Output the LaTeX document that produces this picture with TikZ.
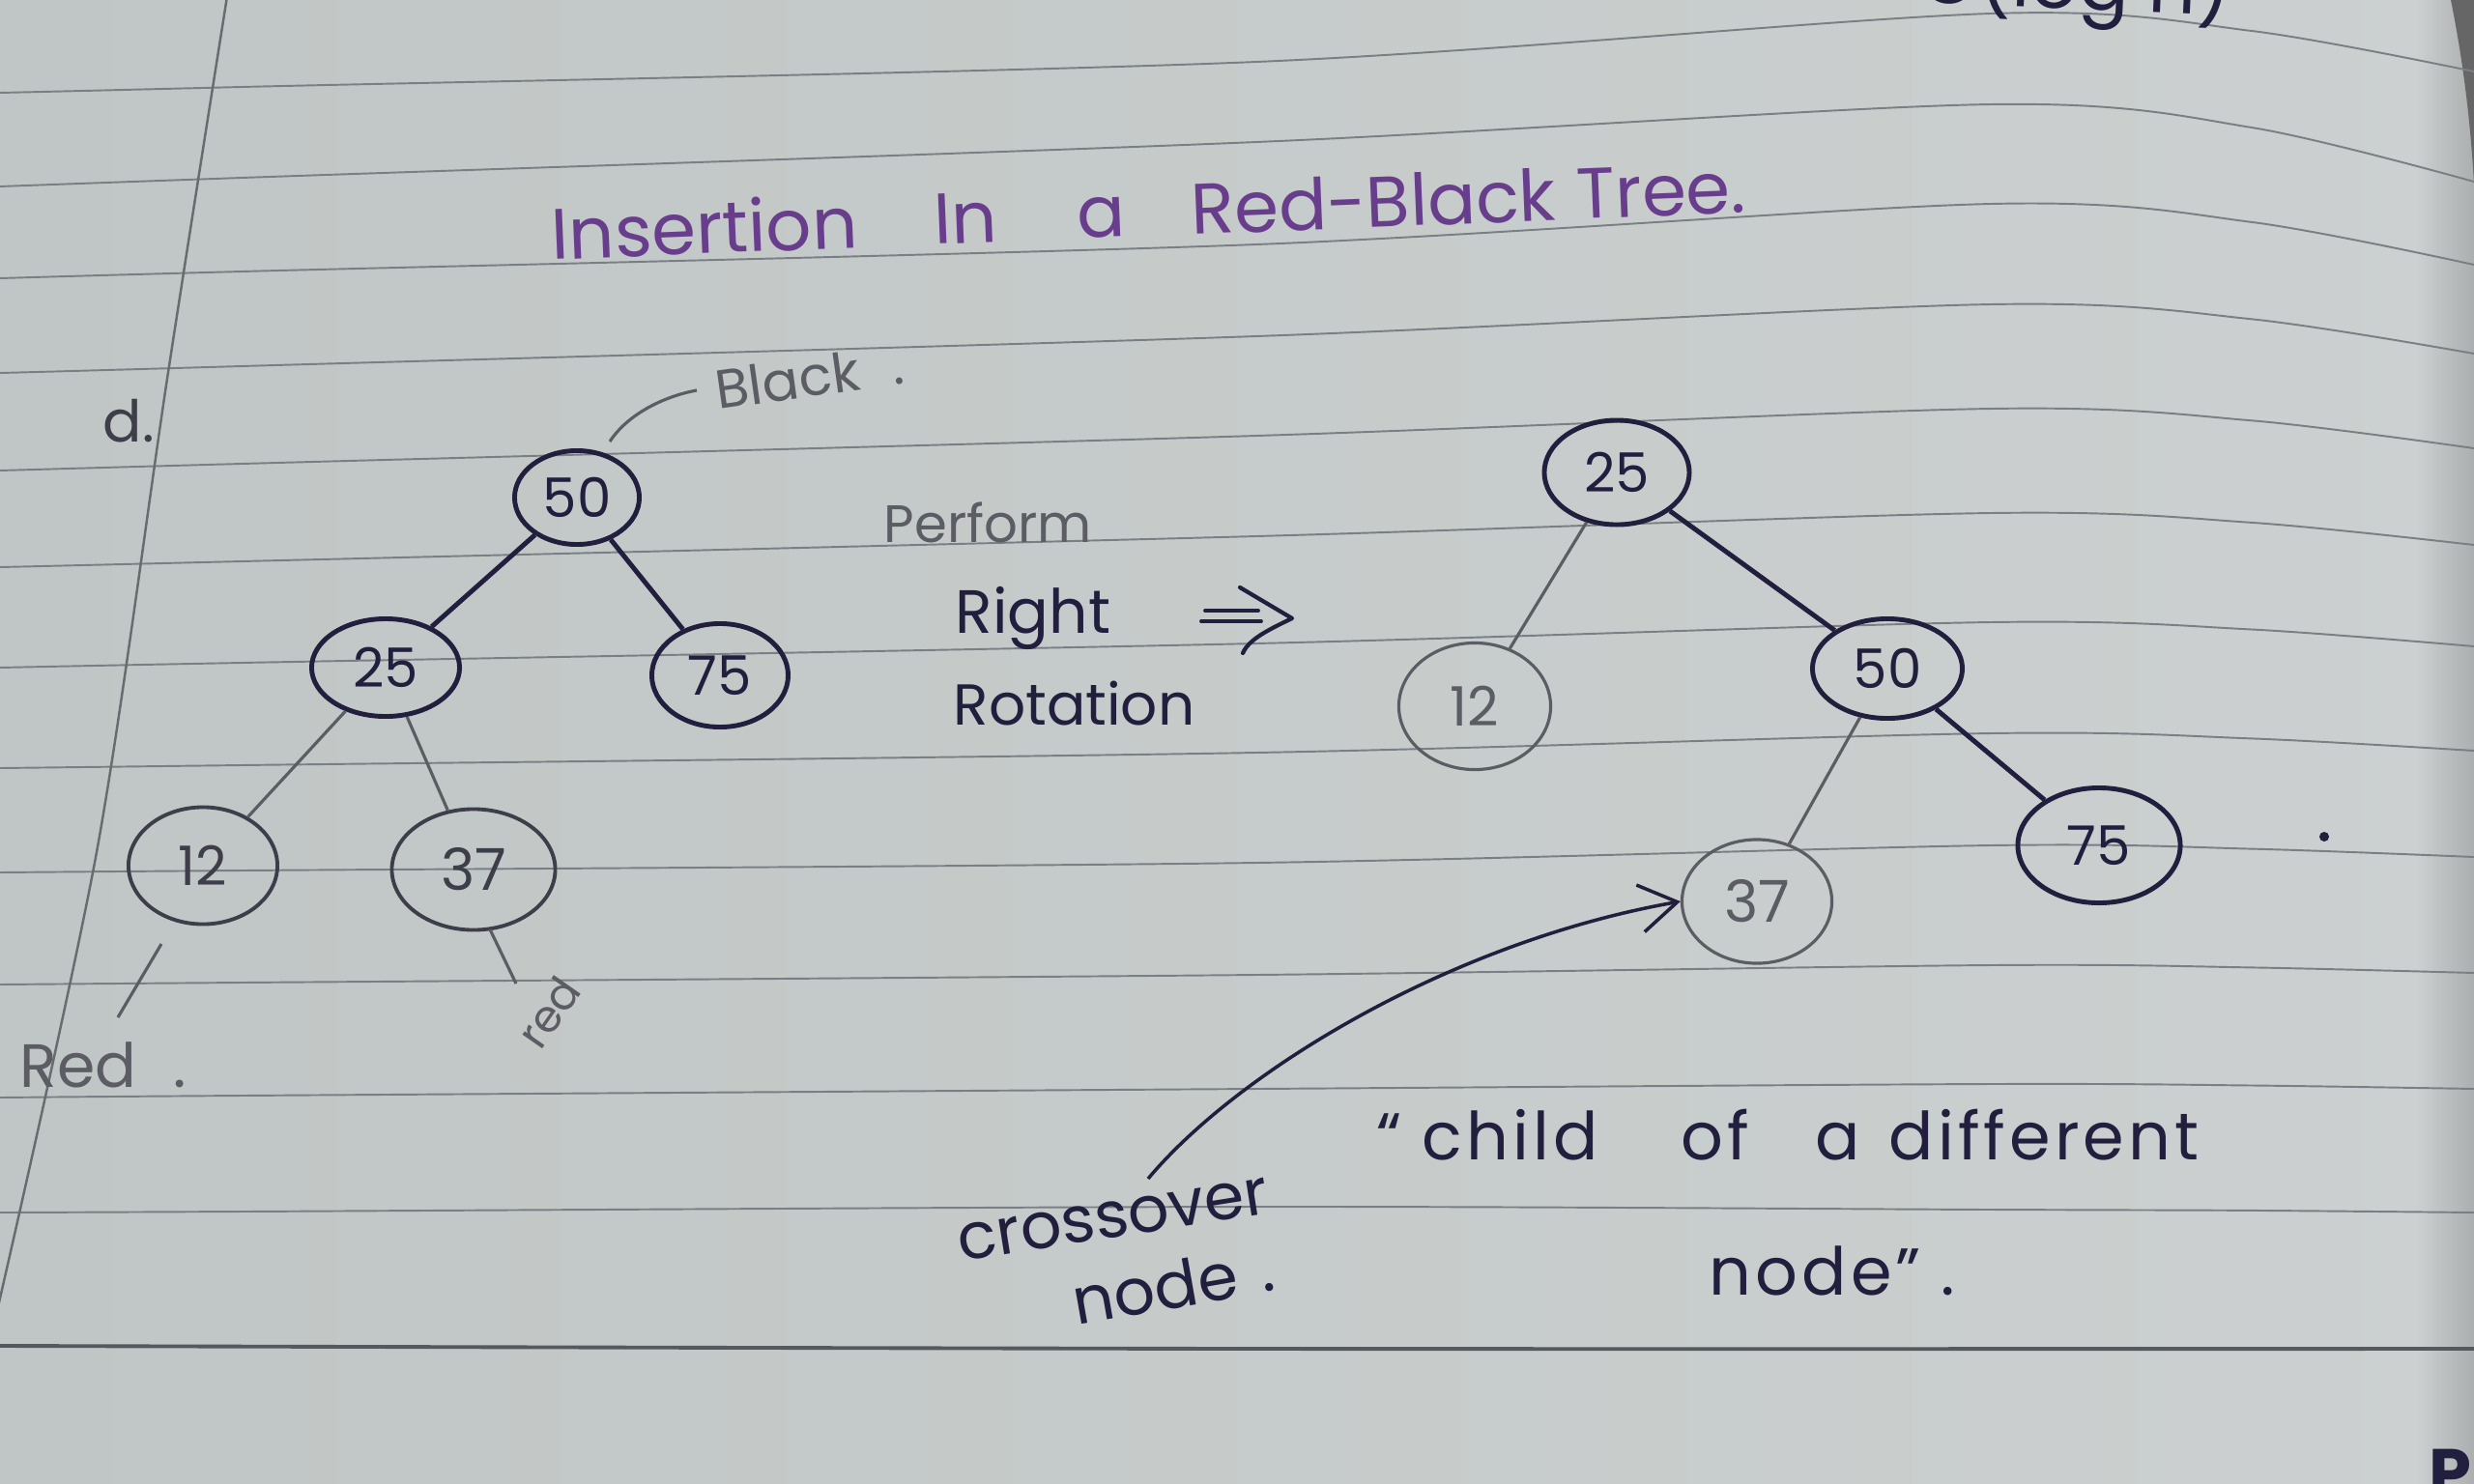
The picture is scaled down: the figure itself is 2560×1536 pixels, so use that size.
\documentclass[tikz,border=0pt]{standalone}
\usepackage{fontspec}
\setmainfont{Poppins}
\usetikzlibrary{shapes.geometric,arrows.meta}

\definecolor{paperL}{RGB}{192,198,197}
\definecolor{paperM}{RGB}{209,213,212}
\definecolor{paperR}{RGB}{204,208,208}
\definecolor{rulec}{RGB}{122,127,133}
\definecolor{inkc}{RGB}{34,30,62}
\definecolor{inkg}{RGB}{62,62,74}
\definecolor{pencilc}{RGB}{92,92,100}
\definecolor{titlec}{RGB}{104,62,140}

\tikzset{
  rule/.style={draw=rulec, line width=0.55pt},
  ink/.style={draw=inkc, line width=1.4pt},
  inkthin/.style={draw=inkc, line width=1.0pt},
  darkgray/.style={draw=inkg, line width=1.1pt},
  pencil/.style={draw=pencilc, line width=0.9pt},
  tnode/.style={ellipse, inner sep=0pt, font=\fontsize{16}{16}\selectfont},
  hand/.style={inner sep=0pt, anchor=base west},
  note/.style={hand, text=inkc, font=\fontsize{19.5}{20}\selectfont\addfontfeatures{LetterSpace=6}},
}

\begin{document}
\begin{tikzpicture}[x=0.01cm, y=-0.01cm]
\useasboundingbox (0,0) rectangle (2560,1536);
\clip (0,0) rectangle (2560,1536);

% paper
\shade[left color=paperL, middle color=paperM, right color=paperR] (0,0) rectangle (2560,1536);
\shade[left color=paperR, right color=paperR!84!black] (2500,0) rectangle (2560,1536);
\fill[black!60] (2536,0) .. controls (2548,60) and (2556,120) .. (2560,190) -- (2560,0) -- cycle;

% ruled lines: y at x=0, 250, 1300, 2060 and droop at the right edge
\foreach \a/\b/\c/\d/\e in {96/90/64/14/60, 193/184/147/108/80, 288/281/253/211/63,
    386/379/348/315/51, 487/480/451/423/41, 587/581/555/531/33, 691/686/666/644/25,
    795/792/779/759/18, 903/901/893/875/12, 1019/1017/1009/999/8, 1136/1134/1127/1122/5,
    1255/1254/1249/1252/3}
  \draw[rule] plot[smooth] coordinates {(0,\a) (250,\b) (1300,\c) (2060,\d) (2330,{\d+0.3*\e}) (2560,{\d+\e})};
\draw[draw=rulec!70!black, line width=1.1pt] plot[smooth] coordinates {(0,1393) (1300,1396) (2560,1396)};

% margin line
\draw[draw=rulec!85!black, line width=0.7pt] plot[smooth] coordinates {(236,-10) (173,392) (100,882) (-6,1370)};

% heading
\begin{scope}[every node/.style={hand, rotate=2.3, text=titlec, font=\fontsize{21}{21}\selectfont}]
  \node (t1) at (571,269) {Insertion};
  \node (t2) at (967,253) {In};
  \node (t3) at (1115,247) {a};
  \node (t4) at (1233,243) {Red-Black};
  \node (t5) at (1632,227) {Tree.};
\end{scope}

% top-right note, cut by the page edge
\node[hand, rotate=-2.5, text=inkc, font=\fontsize{22}{22}\selectfont] (cplx) at (1985,2) {O(log n)};

% left tree
\node[hand, text=inkg, font=\fontsize{17}{17}\selectfont] (dlabel) at (106,457) {d.};
\node[tnode, ink, text=inkc, minimum width=1.29cm, minimum height=0.97cm] (L50) at (597,515) {50};
\node[tnode, ink, text=inkc, minimum width=1.53cm, minimum height=1.01cm] (L25) at (399,691) {25};
\node[tnode, ink, text=inkc, minimum width=1.41cm, minimum height=1.07cm] (L75) at (745,699) {75};
\node[tnode, darkgray, text=inkg, minimum width=1.54cm, minimum height=1.21cm] (L12) at (210,896) {12};
\node[tnode, darkgray, text=inkg, minimum width=1.69cm, minimum height=1.25cm, font=\fontsize{17}{17}\selectfont] (L37) at (490,900) {37};
\draw[ink] (L50) -- (L25);
\draw[ink] (L50) -- (L75);
\draw[pencil] (L25) -- (L12);
\draw[pencil] (L25) -- (L37);

% colour notes on the left tree
\node[hand, rotate=8, text=pencilc, font=\fontsize{16}{16}\selectfont] (blacklbl) at (743,424) {Black\hspace{0.6em}.};
\coordinate (bk1) at (631,457);
\coordinate (bk2) at (721,404);
\draw[pencil] (bk1) .. controls (650,428) and (688,410) .. (bk2);

\node[hand, text=pencilc, font=\fontsize{18}{18}\selectfont] (redlbl) at (20,1125) {Red\hspace{0.6em}.};
\coordinate (rd1) at (167,977);
\coordinate (rd2) at (122,1053);
\draw[pencil] (rd1) -- (rd2);

\coordinate (rs1) at (507,962);
\coordinate (rs2) at (534,1018);
\draw[pencil] (rs1) -- (rs2);
\node[rotate=55, inner sep=0pt, text=pencilc, font=\fontsize{13}{13}\selectfont] (redsmall) at (568,1048) {red};

% rotation label
\node[hand, text=pencilc, font=\fontsize{15.5}{16}\selectfont] (perform) at (914,561) {Perform};
\node[hand, text=inkc, font=\fontsize{18}{18}\selectfont] (rightlbl) at (988,655) {Right};
\node[hand, text=inkc, font=\fontsize{17}{17}\selectfont] (rotlbl) at (986,750) {Rotation};
% double arrow
\draw[inkc, line width=1.1pt, line cap=round] (1247,632) -- (1302,632);
\draw[inkc, line width=1.1pt, line cap=round] (1243,643) -- (1305,643);
\draw[inkc, line width=1.2pt, line cap=round, line join=round]
  (1283,608) -- (1337,640) .. controls (1312,652) and (1292,662) .. (1286,676);

% right tree
\node[tnode, ink, text=inkc, minimum width=1.50cm, minimum height=1.08cm] (R25) at (1673,489) {25};
\node[tnode, pencil, text=pencilc, minimum width=1.57cm, minimum height=1.31cm] (R12) at (1526,731) {12};
\node[tnode, ink, text=inkc, minimum width=1.55cm, minimum height=1.03cm] (R50) at (1953,692) {50};
\node[tnode, ink, text=inkc, minimum width=1.68cm, minimum height=1.19cm] (R75) at (2172,875) {75};
\node[tnode, pencil, text=pencilc, minimum width=1.55cm, minimum height=1.28cm, font=\fontsize{17}{17}\selectfont] (R37) at (1818,933) {37};
\draw[pencil] (R25) -- (R12);
\draw[ink] (R25) -- (R50);
\draw[pencil] (R50) -- (R37);
\draw[ink] (R50) -- (R75);
\fill[inkc] (2405,866) circle (5);

% crossover note
\node[hand, rotate=9, text=inkc, font=\fontsize{19}{19}\selectfont] (xo) at (994,1306) {crossover};
\node[hand, rotate=10, text=inkc, font=\fontsize{19}{19}\selectfont] (xonode) at (1114,1372) {node\hspace{0.35em}.};
\coordinate (xs) at (1188,1220);
\draw[inkthin, -{Straight Barb[length=11pt,width=14pt,line width=1pt]}] (xs) .. controls (1280,1110) and (1500,975) .. (R37.west);

% quoted remark
\node[note] (q1) at (1424,1200) {“};
\node[note] (q2) at (1471,1200) {child};
\node[note] (q3) at (1739,1200) {of};
\node[note] (q4) at (1878,1200) {a};
\node[note] (q5) at (1954,1200) {different};
\node[note] (node2) at (1768,1340) {node”\hspace{0.3em}.};

% page corner fragment
\node[hand, text=inkc, font=\bfseries\fontsize{20}{20}\selectfont] (pfrag) at (2513,1549) {Pr};
\end{tikzpicture}
\end{document}
